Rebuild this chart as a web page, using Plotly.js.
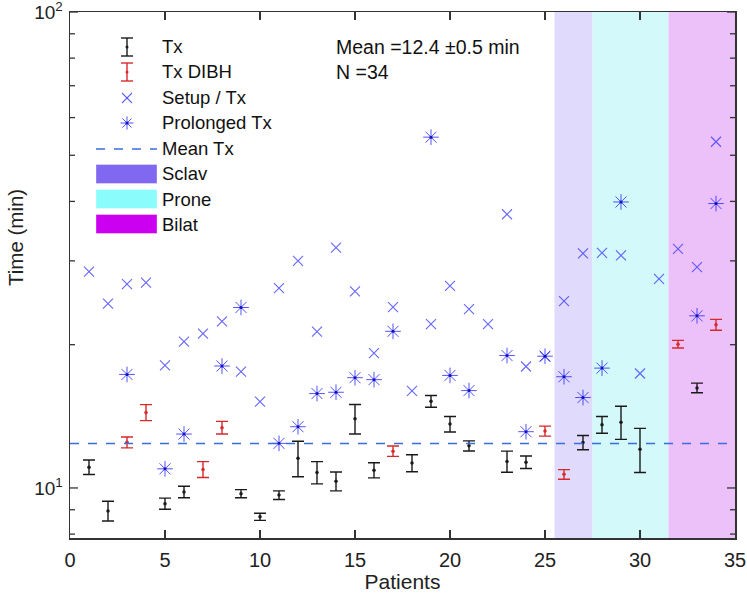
<!DOCTYPE html>
<html>
<head>
<meta charset="utf-8">
<script src="https://cdn.plot.ly/plotly-3.0.1.min.js"></script>
<style>html,body{margin:0;padding:0;background:#fff;}#chart{width:747px;height:599px;}</style>
</head>
<body>
<div id="chart"></div>
<script>
// ---- data ----
const txPatients = [1,2,5,6,9,10,11,12,13,14,15,16,18,19,20,21,23,24,27,28,29,30,33];
const txMean     = [11.06,8.95,9.27,9.81,9.73,8.70,9.66,11.55,10.78,10.33,13.98,10.90,11.28,15.21,13.62,12.26,11.37,11.33,12.46,13.58,13.75,12.06,16.23];
const txErr      = [0.39,0.43,0.25,0.27,0.19,0.15,0.20,0.99,0.58,0.47,1.00,0.40,0.46,0.43,0.51,0.30,0.58,0.34,0.43,0.55,1.10,1.28,0.38];

const dibhPatients = [3,4,7,8,17,25,26,32,34];
const dibhMean     = [12.47,14.41,10.94,13.39,11.95,13.17,10.68,20.05,22.03];
const dibhErr      = [0.33,0.56,0.42,0.41,0.30,0.32,0.25,0.37,0.58];

const setupPatients = [1,2,3,4,5,6,7,8,9,10,11,12,13,14,15,16,17,18,19,20,21,22,23,24,25,26,27,28,29,30,31,32,33,34];
const setupTime     = [28.5,24.4,26.8,27.0,18.1,20.3,21.1,22.4,17.55,15.19,26.3,30.0,21.3,32.0,25.9,19.2,24.0,16.0,22.1,26.6,23.75,22.1,37.6,18.0,18.9,24.7,31.1,31.2,30.8,17.4,27.5,31.8,29.1,53.4];

const prolPatients = [3,5,6,8,9,11,12,13,14,15,16,17,19,20,21,23,24,25,26,27,28,29,33,34];
const prolTime     = [17.32,10.97,12.98,18.04,23.95,12.41,13.45,15.79,15.89,17.05,16.89,21.34,54.6,17.24,16.02,18.98,13.13,18.92,17.13,15.49,17.86,39.9,23.0,39.6];

const meanTx = 12.4;
const meanText = 'Mean =12.4 \u00b10.5 min';
const nText = 'N =34';

const groupNames = ['Sclav','Prone','Bilat'];
const groupStart = [25.5,27.5,31.5];
const groupEnd   = [27.5,31.5,35];
const groupFill  = ['#e0dafc','#d3f9fa','#ecc1fa'];
const groupSwatch= ['#8068f0','#8afcfc','#cc00f0'];

const xTicks = [0,5,10,15,20,25,30,35];
const yMajor = [10,100];
const yMajorText = ['10<sup>1</sup>','10<sup>2</sup>'];
const yMinor = [8,9,20,30,40,50,60,70,80,90];
const yLo = 7.85, yHi = 100;

// ---- layout geometry ----
const W = 747, H = 599;
const M = {l:70, r:12, t:12, b:61};
const PW = W - M.l - M.r, PH = H - M.t - M.b;
const px = v => (v - M.l) / PW;          // pixel -> paper x
const py = v => (H - M.b - v) / PH;      // pixel -> paper y
const LLO = Math.log10(yLo), LHI = Math.log10(yHi);
const vy = v => (Math.log10(v) - LLO) / (LHI - LLO);   // value -> paper y
const FONT = 'Liberation Sans, Arial, Helvetica, sans-serif';
const BLUE_X = 'rgba(50,50,255,0.75)';
const BLUE_A = 'rgba(40,40,255,0.8)';
const RED = '#d62a2a';
const BLK = '#1a1a1a';
const AXC = '#333';
const MEANC = '#3a6ee0';

const traces = [
  {x: setupPatients, y: setupTime, type:'scatter', mode:'markers', name:'Setup / Tx', showlegend:false,
   marker:{symbol:'x-thin-open', size:10, color:BLUE_X, line:{width:1.1, color:BLUE_X}}},
  {x: prolPatients, y: prolTime, type:'scatter', mode:'markers', name:'Prolonged Tx', showlegend:false,
   marker:{symbol:'asterisk-open', size:13, color:BLUE_A, line:{width:1.0, color:BLUE_A}}},
  {x: prolPatients, y: prolTime, type:'scatter', mode:'markers', showlegend:false, hoverinfo:'skip',
   marker:{symbol:'circle', size:3, color:'#1010c0'}},
  {x: txPatients, y: txMean, type:'scatter', mode:'markers', name:'Tx', showlegend:false,
   marker:{symbol:'circle', size:3.5, color:BLK},
   error_y:{type:'data', array:txErr, visible:true, color:BLK, thickness:1.4, width:6}},
  {x: dibhPatients, y: dibhMean, type:'scatter', mode:'markers', name:'Tx DIBH', showlegend:false,
   marker:{symbol:'circle', size:3.5, color:RED},
   error_y:{type:'data', array:dibhErr, visible:true, color:RED, thickness:1.4, width:6}}
];

const shapes = [];
const annotations = [];
// group bands
groupNames.forEach((g,i) => {
  shapes.push({type:'rect', xref:'x', yref:'paper', x0:groupStart[i], x1:groupEnd[i], y0:0, y1:1,
               fillcolor:groupFill[i], line:{width:0}, layer:'below'});
});
// mean line
shapes.push({type:'line', xref:'paper', yref:'y', x0:0, x1:1, y0:meanTx, y1:meanTx,
             line:{color:MEANC, width:1.5, dash:'dash'}});
// y ticks (major longer, minor shorter) on both sides
yMajor.concat(yMinor).forEach(v => {
  const len = yMajor.includes(v) ? 8 : 5;
  const yy = vy(v);
  shapes.push({type:'line', xref:'paper', yref:'paper', x0:0, x1:len/PW, y0:yy, y1:yy, line:{color:AXC, width:1.3}});
  shapes.push({type:'line', xref:'paper', yref:'paper', x0:1-len/PW, x1:1, y0:yy, y1:yy, line:{color:AXC, width:1.3}});
});

// ---- custom legend ----
const gx = 127, tx = 162;
const rows = {tx:47, dibh:72, setup:98, prol:123, mean:149, sclav:174, prone:199, bilat:224};
function seg(x0,y0,x1,y1,color,w){
  shapes.push({type:'line', xref:'paper', yref:'paper', x0:px(x0), y0:py(y0), x1:px(x1), y1:py(y1),
               line:{color:color, width:w}});
}
function errGlyph(yc, color){
  seg(gx, yc-9, gx, yc+9, color, 1.4);
  seg(gx-6, yc-9, gx+6, yc-9, color, 1.4);
  seg(gx-6, yc+9, gx+6, yc+9, color, 1.4);
  shapes.push({type:'circle', xref:'paper', yref:'paper', x0:px(gx-1.5), x1:px(gx+1.5), y0:py(yc+1.5), y1:py(yc-1.5),
               fillcolor:color, line:{width:0}});
}
errGlyph(rows.tx, BLK);
errGlyph(rows.dibh, RED);
// x glyph
seg(gx-5, rows.setup-5, gx+5, rows.setup+5, BLUE_X, 1.1);
seg(gx-5, rows.setup+5, gx+5, rows.setup-5, BLUE_X, 1.1);
// asterisk glyph
seg(gx-6.5, rows.prol, gx+6.5, rows.prol, BLUE_A, 1.0);
seg(gx, rows.prol-6.5, gx, rows.prol+6.5, BLUE_A, 1.0);
seg(gx-4.6, rows.prol-4.6, gx+4.6, rows.prol+4.6, BLUE_A, 1.0);
seg(gx-4.6, rows.prol+4.6, gx+4.6, rows.prol-4.6, BLUE_A, 1.0);
shapes.push({type:'circle', xref:'paper', yref:'paper', x0:px(gx-1.5), x1:px(gx+1.5), y0:py(rows.prol+1.5), y1:py(rows.prol-1.5),
             fillcolor:'#1010c0', line:{width:0}});
// dashed line glyph
shapes.push({type:'line', xref:'paper', yref:'paper', x0:px(96), x1:px(157), y0:py(rows.mean), y1:py(rows.mean),
             line:{color:MEANC, width:1.5, dash:'dash'}});
// swatches
[rows.sclav, rows.prone, rows.bilat].forEach((yc,i) => {
  shapes.push({type:'rect', xref:'paper', yref:'paper', x0:px(96), x1:px(157), y0:py(yc+9.5), y1:py(yc-9.5),
               fillcolor:groupSwatch[i], line:{width:0.6, color:'rgba(255,255,255,0.6)'}});
});
const legendLabels = [['Tx',rows.tx],['Tx DIBH',rows.dibh],['Setup / Tx',rows.setup],['Prolonged Tx',rows.prol],
                      ['Mean Tx',rows.mean],[groupNames[0],rows.sclav],[groupNames[1],rows.prone],[groupNames[2],rows.bilat]];
legendLabels.forEach(([t,yc]) => {
  annotations.push({xref:'paper', yref:'paper', x:px(tx-2), y:py(yc), text:t, showarrow:false,
                    xanchor:'left', yanchor:'middle', font:{family:FONT, size:18.5, color:'#111'}});
});
annotations.push({xref:'paper', yref:'paper', x:px(334), y:py(47), text:meanText, showarrow:false,
                  xanchor:'left', yanchor:'middle', font:{family:FONT, size:19.5, color:'#111'}});
annotations.push({xref:'paper', yref:'paper', x:px(334), y:py(72), text:nText, showarrow:false,
                  xanchor:'left', yanchor:'middle', font:{family:FONT, size:19.5, color:'#111'}});
// y-axis title
annotations.push({xref:'paper', yref:'paper', x:px(15), y:py(238), text:'Time (min)', showarrow:false, textangle:-90,
                  xanchor:'center', yanchor:'middle', font:{family:FONT, size:20.5, color:'#222'}});

const axisCommon = {showgrid:false, zeroline:false, showline:true, linecolor:AXC, linewidth:1.5,
                    ticks:'inside', ticklen:8, tickwidth:1.3, tickcolor:AXC, mirror:'ticks',
                    ticklabeloverflow:'allow',
                    tickfont:{family:FONT, size:20, color:'#222'}};

const layout = {
  width:W, height:H, margin:M, paper_bgcolor:'#fff', plot_bgcolor:'#fff', showlegend:false,
  font:{family:FONT, color:'#222'},
  xaxis: Object.assign({}, axisCommon, {range:[0,35], tickmode:'array', tickvals:xTicks, ticklabelstandoff:3,
          title:{text:'Patients', font:{family:FONT, size:21, color:'#222'}, standoff:4}}),
  yaxis: Object.assign({}, axisCommon, {type:'log', range:[LLO, LHI + 0.0002], tickmode:'array',
          tickvals:yMajor, ticktext:yMajorText, ticks:'', ticklabelstandoff:2,
          tickfont:{family:FONT, size:19, color:'#222'}}),
  shapes:shapes, annotations:annotations
};

Plotly.newPlot('chart', traces, layout, {displayModeBar:false, staticPlot:true});
</script>
</body>
</html>
